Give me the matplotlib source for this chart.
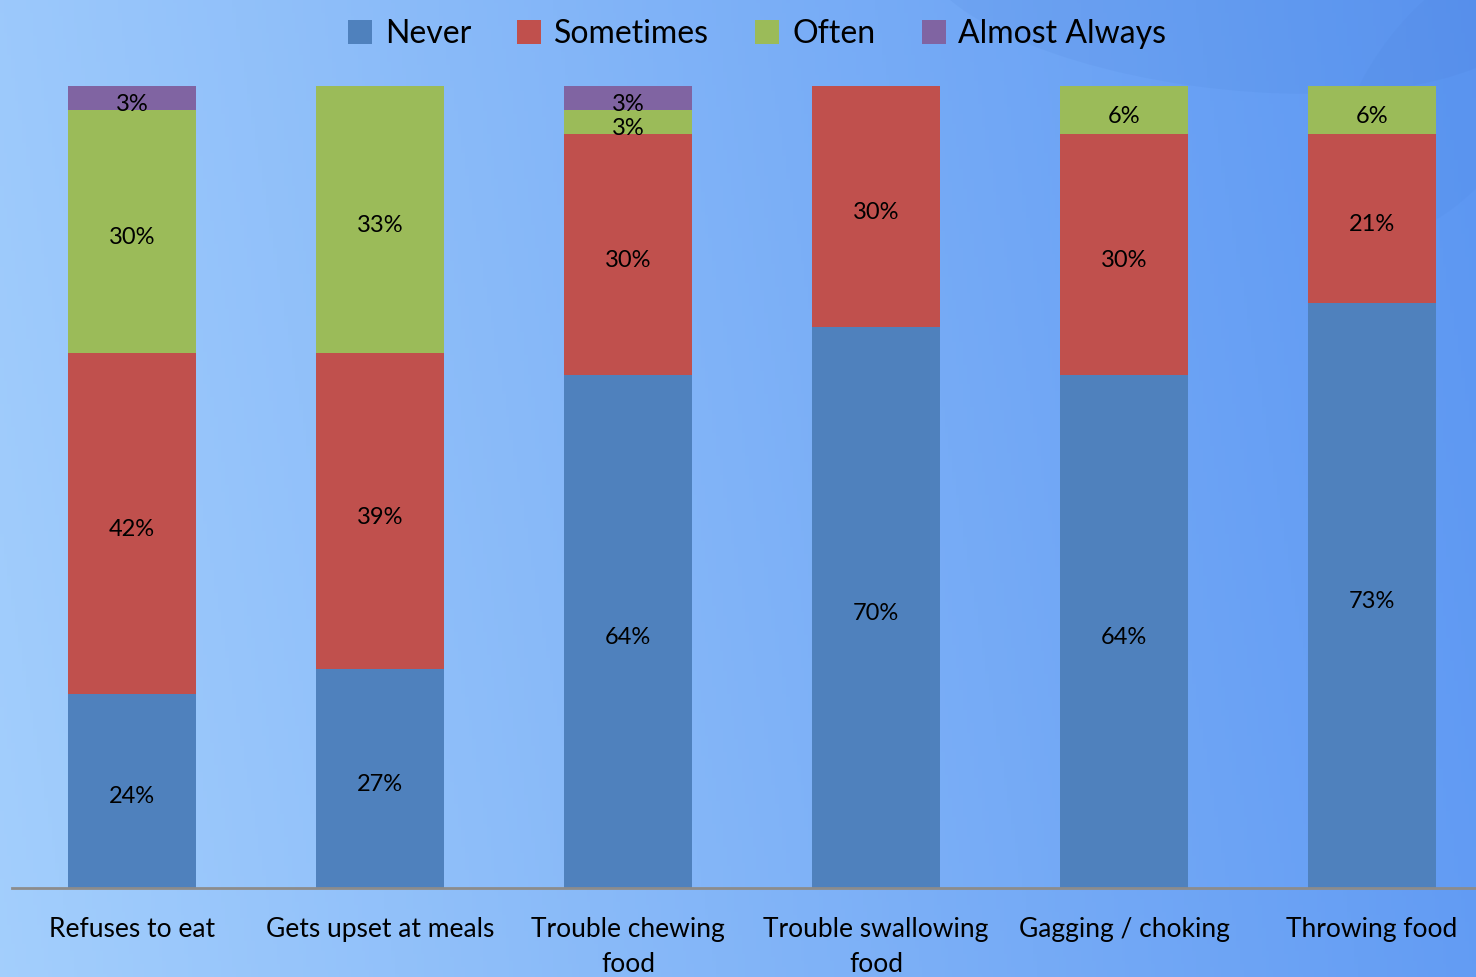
import numpy as np
import matplotlib
matplotlib.use('Agg')
import matplotlib.pyplot as plt
from matplotlib.patches import Ellipse

plt.rcParams['font.family'] = ['Lato', 'DejaVu Sans']

categories = ['Refuses to eat', 'Gets upset at meals', 'Trouble chewing\nfood',
              'Trouble swallowing\nfood', 'Gagging / choking', 'Throwing food']
series = ['Never', 'Sometimes', 'Often', 'Almost Always']
never = [24, 27, 64, 70, 64, 73]
sometimes = [42, 39, 30, 30, 30, 21]
often = [30, 33, 3, 0, 6, 6]
almost_always = [3, 0, 3, 0, 0, 0]
colors = ['#4F81BD', '#C0504D', '#9BBB59', '#8064A2']

values = np.array([never, sometimes, often, almost_always], dtype=float)
shares = values / values.sum(axis=0) * 100  # 100% stacked

fig = plt.figure(figsize=(14.76, 9.77), dpi=100)

# background gradient
bg = fig.add_axes([0, 0, 1, 1], zorder=0)
xx = np.linspace(0, 1, 400)
yy = np.linspace(0, 1, 300)
X, Y = np.meshgrid(xx, yy)
c0 = np.array([0.64, 0.81, 0.99])
c1 = np.array([0.36, 0.59, 0.95])
t = np.clip(0.9 * X + 0.1 * (1 - Y), 0, 1)[..., None]
img = c0 * (1 - t) + c1 * t
bg.imshow(img, extent=[0, 1, 0, 1], aspect='auto', origin='upper')
bg.add_patch(Ellipse((0.83, 1.02), 0.42, 0.22, angle=-12, color='#3a6fc8', alpha=0.08, lw=0))
bg.add_patch(Ellipse((0.98, 0.9), 0.12, 0.3, angle=-20, color='#3a6fc8', alpha=0.06, lw=0))
bg.set_xlim(0, 1)
bg.set_ylim(0, 1)
bg.axis('off')

ax = fig.add_axes([12 / 1476, 89 / 977, 1464 / 1476, 802 / 977], zorder=1)
ax.patch.set_alpha(0)
x = np.arange(len(categories))
bottom = np.zeros(len(categories))
for i, name in enumerate(series):
    ax.bar(x, shares[i], 0.516, bottom=bottom, color=colors[i], label=name, zorder=2)
    for j in range(len(categories)):
        if values[i, j] > 0:
            ax.annotate(f'{values[i, j]:.0f}%', (x[j], bottom[j] + shares[i, j] / 2),
                        xytext=(0, -3), textcoords='offset points',
                        ha='center', va='center_baseline', fontsize=17, color='black', zorder=3)
    bottom += shares[i]

ax.set_xlim(-0.484, 5.419)
ax.set_ylim(0, 100)
ax.set_yticks([])
ax.set_xticks(x)
ax.set_xticklabels(categories, fontsize=19, linespacing=1.5)
ax.tick_params(axis='x', length=0, pad=21)
for s in ['top', 'right', 'left']:
    ax.spines[s].set_visible(False)
ax.spines['bottom'].set_color('#8c8c8c')
ax.spines['bottom'].set_linewidth(2)

handles, labels = ax.get_legend_handles_labels()
fig.legend(handles, labels, loc='upper center', bbox_to_anchor=(0.513, 1.01), ncol=4,
           frameon=False, fontsize=23, handlelength=0.75, handleheight=0.75,
           handletextpad=0.4, columnspacing=1.45)

fig.savefig('out.png', dpi=100)
